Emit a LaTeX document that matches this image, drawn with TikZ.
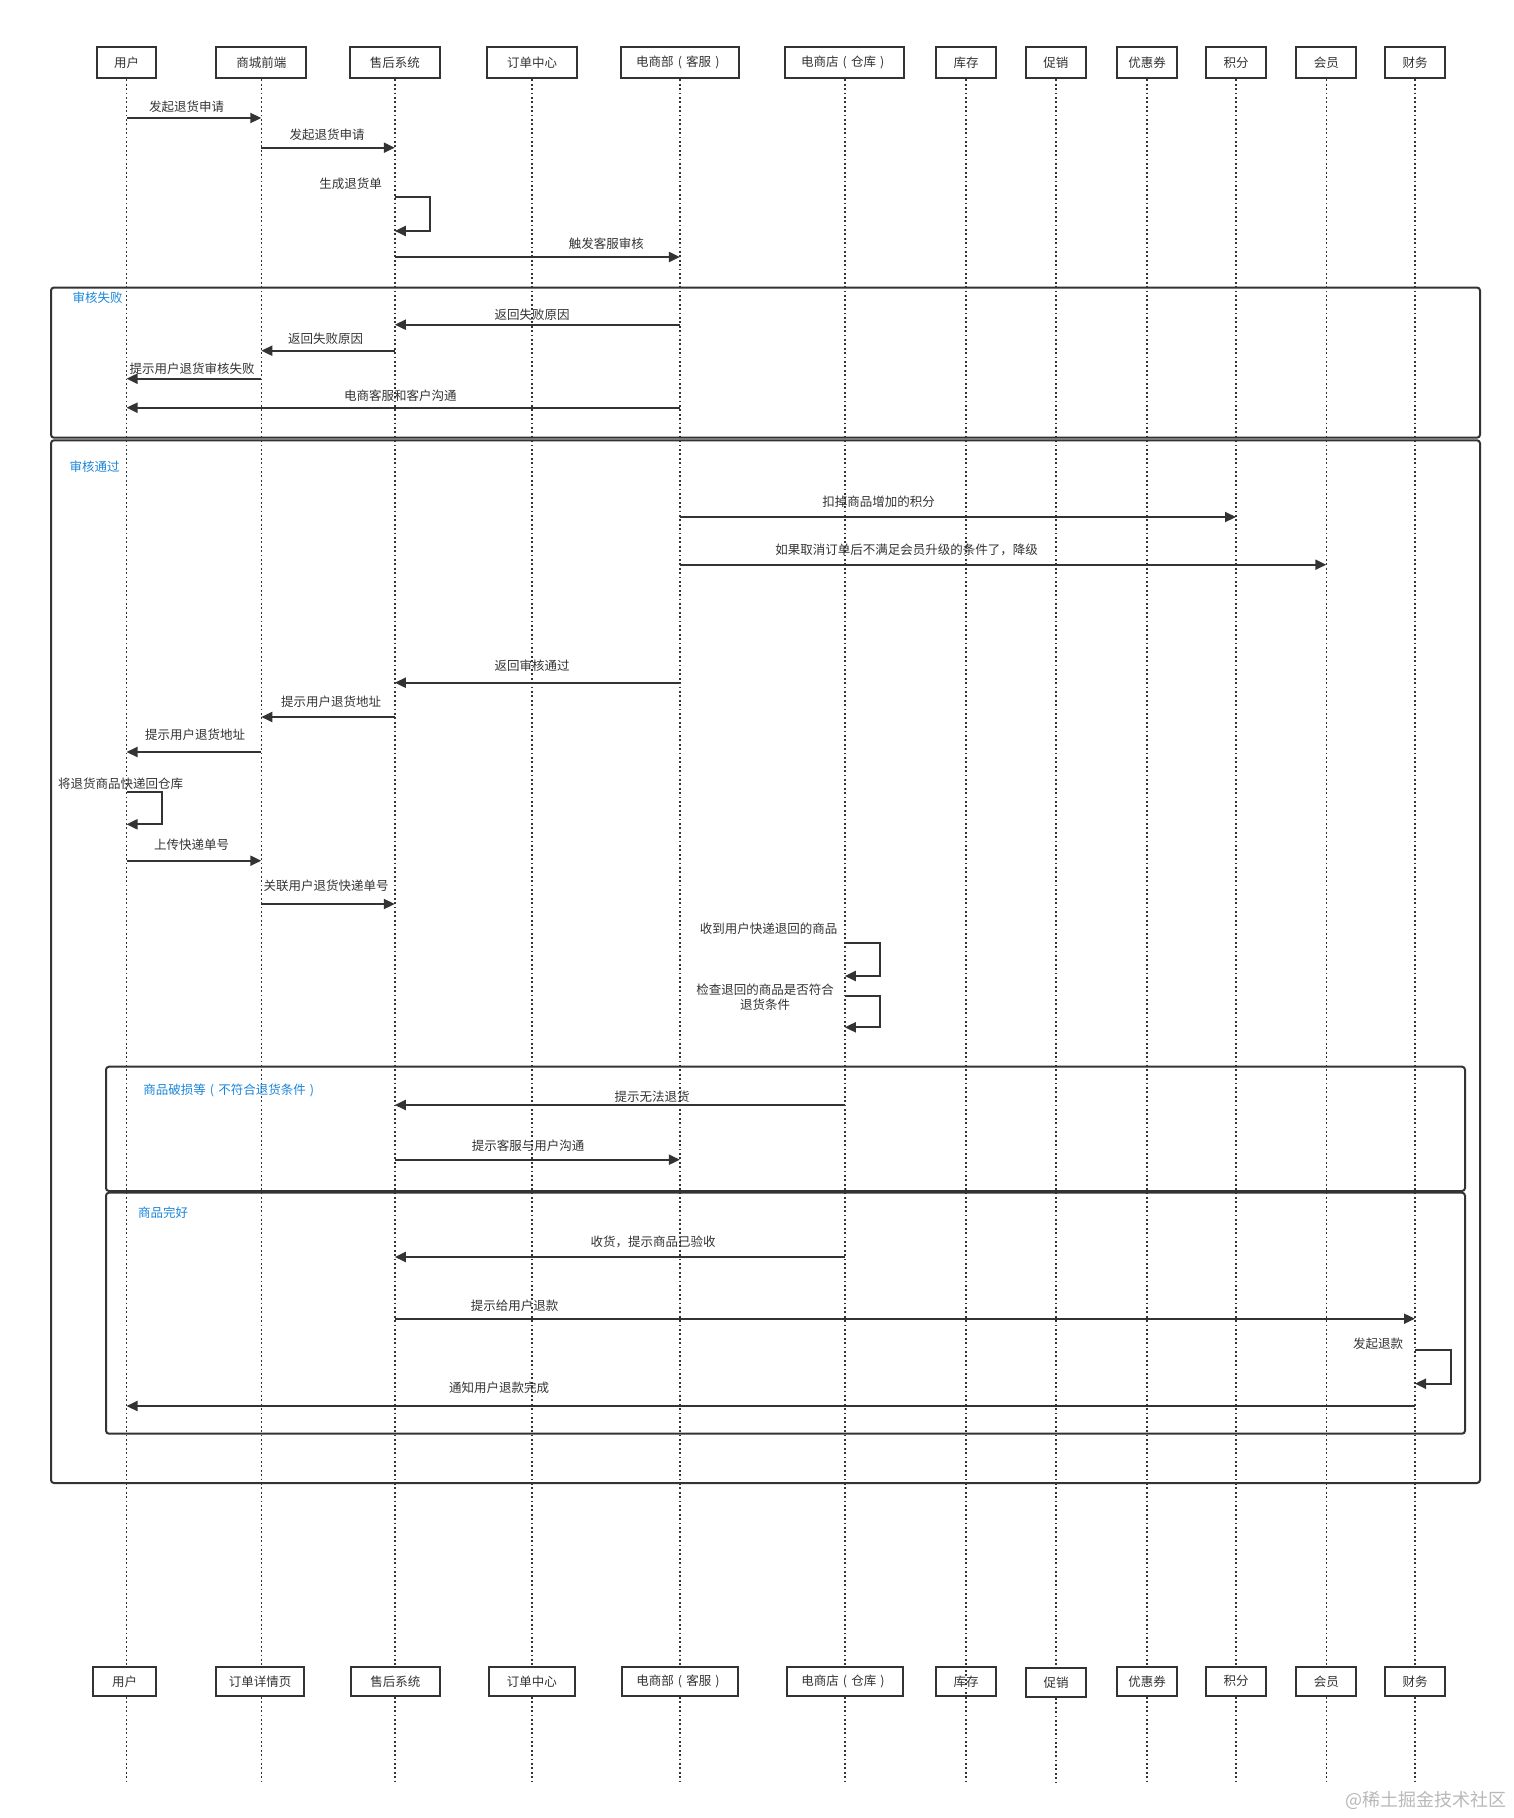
\documentclass[tikz,border=0pt]{standalone}
\usepackage{fontspec}
\setmainfont{Noto Sans CJK SC}
\usetikzlibrary{arrows.meta}
\definecolor{ink}{HTML}{333333}
\definecolor{fblue}{HTML}{1A86D9}
\definecolor{wm}{HTML}{B8B8B8}
\newcommand{\lpar}{\makebox[1em]{(}}
\newcommand{\rpar}{\makebox[1em]{)}}
\begin{document}
\begin{tikzpicture}[x=1pt,y=-1pt,
  actor/.style={draw=ink, line width=2pt, fill=white, minimum height=31pt, inner sep=0pt, text=ink, font=\fontsize{12.5}{14}\selectfont},
  bactor/.style={actor, minimum height=29.3pt},
  life/.style={ink, line width=1.6pt, dash pattern=on 1.8pt off 2.6pt},
  msg/.style={ink, line width=2pt, -{Triangle[length=11pt,width=10pt]}},
  lbl/.style={text=ink, font=\fontsize{12.5}{14}\selectfont, inner sep=0pt},
  fbox/.style={draw=ink, line width=2pt, rounded corners=3pt},
  ftitle/.style={text=fblue, font=\fontsize{12.5}{14}\selectfont, inner sep=0pt}
]
\useasboundingbox (0,0) rectangle (1513,1818);

% top actors
\node[actor, minimum width=59pt]    (t1)  at (126.5,62.8) {用户};
\node[actor, minimum width=90pt]    (t2)  at (261.3,62.8) {商城前端};
\node[actor, minimum width=89.6pt]  (t3)  at (394.8,62.8) {售后系统};
\node[actor, minimum width=89.6pt]  (t4)  at (532,62.8) {订单中心};
\node[actor, minimum width=117.7pt] (t5)  at (679.9,62.8) {电商部\lpar 客服\rpar};
\node[actor, minimum width=118.8pt] (t6)  at (844.8,62.8) {电商店\lpar 仓库\rpar};
\node[actor, minimum width=60.6pt]  (t7)  at (966.1,62.8) {库存};
\node[actor, minimum width=60.7pt]  (t8)  at (1055.9,62.8) {促销};
\node[actor, minimum width=60pt]    (t9)  at (1147,62.8) {优惠券};
\node[actor, minimum width=60pt]    (t10) at (1236,62.8) {积分};
\node[actor, minimum width=60pt]    (t11) at (1326.3,62.8) {会员};
\node[actor, minimum width=60pt]    (t12) at (1415,62.8) {财务};

% bottom actors
\node[bactor, minimum width=63pt]    (b1)  at (124.5,1681.3) {用户};
\node[bactor, minimum width=88.4pt]  (b2)  at (260.2,1681.3) {订单详情页};
\node[bactor, minimum width=88.6pt]  (b3)  at (395.3,1681.3) {售后系统};
\node[bactor, minimum width=86.4pt]  (b4)  at (531.8,1681.3) {订单中心};
\node[bactor, minimum width=116pt]   (b5)  at (680,1681.3) {电商部\lpar 客服\rpar};
\node[bactor, minimum width=116.4pt] (b6)  at (845,1681.3) {电商店\lpar 仓库\rpar};
\node[bactor, minimum width=59.6pt]  (b7)  at (966,1681.3) {库存};
\node[bactor, minimum width=60pt]    (b8)  at (1056,1682.3) {促销};
\node[bactor, minimum width=60pt]    (b9)  at (1147,1681.3) {优惠券};
\node[bactor, minimum width=60pt]    (b10) at (1236,1681.3) {积分};
\node[bactor, minimum width=60pt]    (b11) at (1326.3,1681.3) {会员};
\node[bactor, minimum width=60pt]    (b12) at (1415,1681.3) {财务};

% lifelines
\foreach \i in {1,...,12}{
  \draw[life] (t\i.south) -- (t\i.south |- b\i.north);
  \draw[life] (t\i.south |- b\i.south) -- (t\i.south |- 0,1784);
}
\draw[life] (t7.south |- b7.north) -- (t7.south |- b7.south);

% messages before frames
\draw[msg] (t1 |- 0,118) -- (t2 |- 0,118);
\node[lbl] (l1) at (186.6,106.7) {发起退货申请};
\draw[msg] (t2 |- 0,147.7) -- (t3 |- 0,147.7);
\node[lbl] (l2) at (327,134.3) {发起退货申请};
\draw[msg] (t3 |- 0,196.7) -- ++(35.6,0) -- ++(0,34.3) -- (t3 |- 0,231);
\node[lbl] (l3) at (350.7,184) {生成退货单};
\draw[msg] (t3 |- 0,257) -- (t5 |- 0,257);
\node[lbl] (l4) at (606.4,244) {触发客服审核};

% frame: 审核失败
\draw[fbox] (51,287.5) rectangle (1480,437.7);
\node[ftitle] (f1) at (97.6,297.3) {审核失败};
\draw[msg] (t5 |- 0,324.7) -- (t3 |- 0,324.7);
\node[lbl] (l5) at (532,314.7) {返回失败原因};
\draw[msg] (t3 |- 0,350.7) -- (t2 |- 0,350.7);
\node[lbl] (l6) at (325.7,339) {返回失败原因};
\draw[msg] (t2 |- 0,378.7) -- (t1 |- 0,378.7);
\node[lbl] (l7) at (192,368.7) {提示用户退货审核失败};
\draw[msg] (t5 |- 0,407.7) -- (t1 |- 0,407.7);
\node[lbl] (l8) at (400.4,395.3) {电商客服和客户沟通};

% frame: 审核通过
\draw[fbox] (51,440.3) rectangle (1480,1483);
\node[ftitle] (f2) at (94.5,466.7) {审核通过};
\draw[msg] (t5 |- 0,517) -- (t10 |- 0,517);
\node[lbl] (l9) at (878.5,502) {扣掉商品增加的积分};
\draw[msg] (t5 |- 0,564.7) -- (t11 |- 0,564.7);
\node[lbl] (l10) at (906.5,550) {如果取消订单后不满足会员升级的条件了，降级};
\draw[msg] (t5 |- 0,682.7) -- (t3 |- 0,682.7);
\node[lbl] (l11) at (532,665.7) {返回审核通过};
\draw[msg] (t3 |- 0,717) -- (t2 |- 0,717);
\node[lbl] (l12) at (331,702) {提示用户退货地址};
\draw[msg] (t2 |- 0,752) -- (t1 |- 0,752);
\node[lbl] (l13) at (195,734.7) {提示用户退货地址};
\draw[msg] (t1 |- 0,792) -- ++(35,0) -- ++(0,32.3) -- (t1 |- 0,824.3);
\node[lbl] (l14) at (120.7,784) {将退货商品快递回仓库};
\draw[msg] (t1 |- 0,860.7) -- (t2 |- 0,860.7);
\node[lbl] (l15) at (191.5,844.7) {上传快递单号};
\draw[msg] (t2 |- 0,904) -- (t3 |- 0,904);
\node[lbl] (l16) at (326.2,886) {关联用户退货快递单号};
\draw[msg] (t6 |- 0,942.7) -- ++(35,0) -- ++(0,33.3) -- (t6 |- 0,976);
\node[lbl] (l17) at (768.7,928.3) {收到用户快递退回的商品};
\draw[msg] (t6 |- 0,995.7) -- ++(35,0) -- ++(0,31.6) -- (t6 |- 0,1027.3);
\node[lbl, align=center, font=\fontsize{12.5}{15}\selectfont] (l18) at (765,996.8) {检查退回的商品是否符合\\退货条件};

% frame: 商品破损等
\draw[fbox] (106,1066.7) rectangle (1465,1191);
\node[ftitle] (f3) at (230.8,1090.7) {商品破损等\lpar 不符合退货条件\rpar};
\draw[msg] (t6 |- 0,1105) -- (t3 |- 0,1105);
\node[lbl] (l19) at (652,1097) {提示无法退货};
\draw[msg] (t3 |- 0,1159.7) -- (t5 |- 0,1159.7);
\node[lbl] (l20) at (528,1146) {提示客服与用户沟通};

% frame: 商品完好
\draw[fbox] (106,1192.7) rectangle (1465,1433.7);
\node[ftitle] (f4) at (163,1213) {商品完好};
\draw[msg] (t6 |- 0,1257) -- (t3 |- 0,1257);
\node[lbl] (l21) at (653,1242.3) {收货，提示商品已验收};
\draw[msg] (t3 |- 0,1318.7) -- (t12 |- 0,1318.7);
\node[lbl] (l22) at (514.5,1305.3) {提示给用户退款};
\draw[msg] (t12 |- 0,1350.3) -- ++(36,0) -- ++(0,33.4) -- (t12 |- 0,1383.7);
\node[lbl] (l23) at (1378,1343.3) {发起退款};
\draw[msg] (t12 |- 0,1406) -- (t1 |- 0,1406);
\node[lbl] (l24) at (499,1387.7) {通知用户退款完成};

% watermark
\node[text=wm, font=\fontsize{18}{20}\selectfont, inner sep=0pt] (wmk) at (1426,1800) {@稀土掘金技术社区};
\end{tikzpicture}
\end{document}
